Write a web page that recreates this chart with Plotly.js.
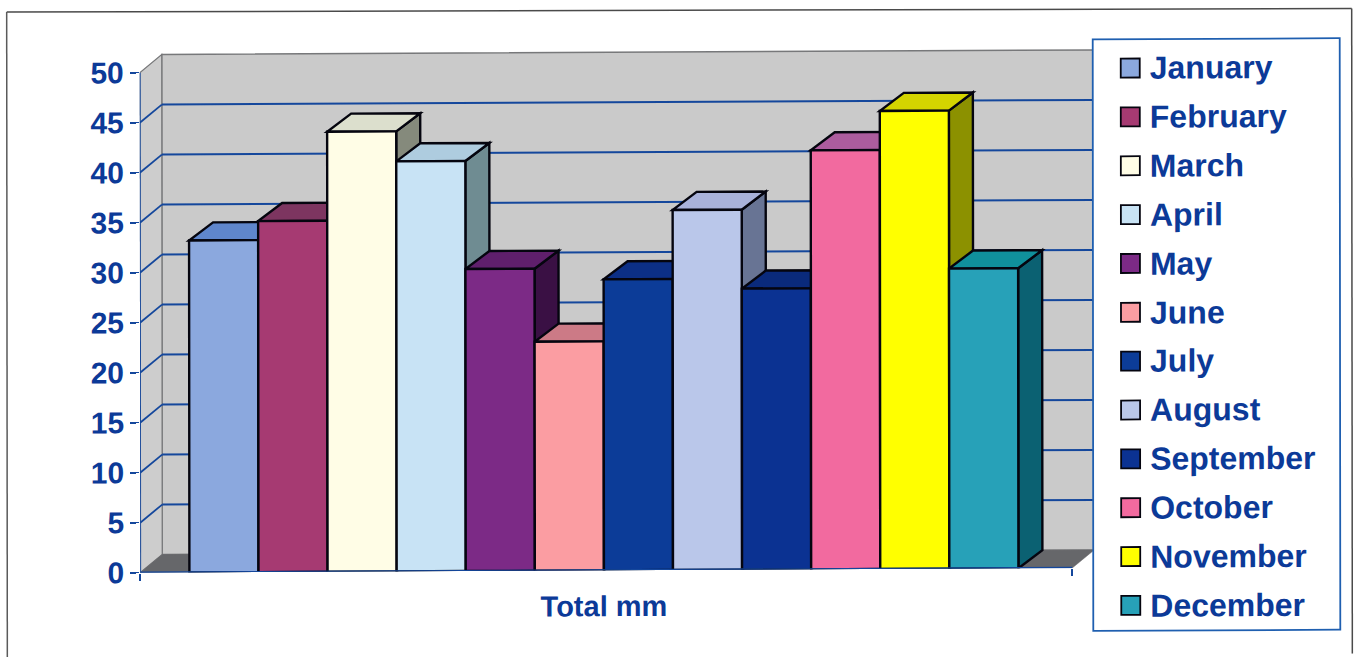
<!DOCTYPE html>
<html>
<head>
<meta charset="utf-8">
<script src="https://cdn.plot.ly/plotly-3.0.1.min.js"></script>
<style>
  html, body { margin: 0; padding: 0; background: #fff; overflow: hidden; }
  #chart { width: 1357px; height: 657px; transform-origin: 678px 328px; transform: matrix(1, -0.005, 0.001, 1, 0, 0); }
</style>
</head>
<body>
<div id="chart"></div>
<script>
// Monthly rainfall, one series per month
const months = ['January','February','March','April','May','June','July','August','September','October','November','December'];
const totals = [33.2, 35.1, 44, 41, 30.2, 22.9, 29.1, 36, 28.1, 41.9, 45.8, 30];
const categoryLabel = 'Total mm';
const yTicks = [0, 5, 10, 15, 20, 25, 30, 35, 40, 45, 50];

const frontColors = ['#8ba8de','#a63a72','#fffde6','#c8e3f5','#7c2a86','#fb9da2','#0c3c98','#bac7ea','#0b3292','#f26a9f','#ffff00','#27a1b8'];
const topColors   = ['#5f86cc','#7d3560','#dcdfcd','#aeccdf','#5f1f6c','#cc7a86','#0c2f86','#a9b2da','#0a2a7c','#ac5c9e','#d4d400','#10909c'];
const sideColors  = ['#3c5a8c','#5c2546','#858a7c','#6f8c92','#3a1044','#8c5560','#08205c','#687494','#071c58','#7c3a68','#8c9100','#0b6172'];

const BLUE = '#0c3a98';
const LINE = '#14479c';
const EDGE = '#05050f';

// Plot frame in page pixels
const M = { l: 140, r: 263, t: 50, b: 87 };
const W = 1357 - M.l - M.r, H = 657 - M.t - M.b;
const frontWidthPx = 932;
const xEnd = W / frontWidthPx;
const pxPerY = 10;
const yEnd = H / pxPerY;

// Perspective offsets of the box and of the columns, in axis units
const depthX = 22 / frontWidthPx, depthY = 1.8;
const barDepthX = 24 / frontWidthPx;
const groupCentre = 0.4975;
const barGap = 0.1105;
const slot = (1 - barGap) / months.length;
const groupLeft = groupCentre - (1 - barGap) / 2;

const poly = pts => 'M' + pts.map(p => p[0] + ',' + p[1]).join('L') + 'Z';
const face = (pts, fill, line, width) => ({
  type: 'path', xref: 'x', yref: 'y', layer: 'below', path: poly(pts), fillcolor: fill,
  line: { color: line, width: width }
});
const seg = (x0, y0, x1, y1, color, width, layer) => ({
  type: 'line', xref: 'x', yref: 'y', layer: layer || 'below', x0, y0, x1, y1,
  line: { color, width }
});

const shapes = [];

// Walls and floor of the box
shapes.push(face([[depthX,depthY],[1+depthX,depthY],[1+depthX,50+depthY],[depthX,50+depthY]], '#cacaca', '#77787a', 1.5));
shapes.push(face([[0,0],[depthX,depthY],[depthX,50+depthY],[0,50]], '#cdcdcd', '#77787a', 1.2));
shapes.push(face([[0,0],[1,0],[1+depthX,depthY],[depthX,depthY]], '#66676a', '#66676a', 0.5));

// Gridlines run across the back wall and down the side wall
yTicks.filter(v => v > 0 && v < 50).forEach(v => {
  shapes.push(seg(depthX, v + depthY, 1 + depthX, v + depthY, LINE, 2));
  shapes.push(seg(0, v, depthX, v + depthY, LINE, 1.8));
});

// Top and side faces of each column, painted left to right; the fronts are bar traces above them
totals.forEach((v, i) => {
  const x0 = groupLeft + i * slot, x1 = x0 + slot;
  const bx = barDepthX, by = depthY;
  shapes.push(face([[x1,0],[x1+bx,by],[x1+bx,v+by],[x1,v]], sideColors[i], EDGE, 2.4));
  shapes.push(face([[x0,v],[x1,v],[x1+bx,v+by],[x0+bx,v+by]], topColors[i], EDGE, 2.4));
});

// Axis lines stop at the front corners of the box
shapes.push(seg(0, 0, 0, 50, LINE, 1.8));
shapes.push(seg(0, 0, 1, 0, LINE, 2.4, 'above'));

// Outer frame, open at the foot of the page
const px = x => (x - M.l) / W;
const py = y => (M.t + H - y) / H;
const paperLine = (x0, y0, x1, y1, color, width) => ({
  type: 'line', xref: 'paper', yref: 'paper', layer: 'above',
  x0: px(x0), y0: py(y0), x1: px(x1), y1: py(y1), line: { color, width }
});
shapes.push(paperLine(7, 8.7, 1352, 11.9, '#4a4a4a', 1.5));
shapes.push(paperLine(7, 8.7, 7, 670, '#5a5a5a', 1.5));
shapes.push(paperLine(1352, 11.9, 1352, 670, '#4a4a4a', 1.5));

// Key box with a swatch and a label per month
shapes.push({
  type: 'rect', xref: 'paper', yref: 'paper', layer: 'above',
  x0: px(1093), x1: px(1340), y0: py(633), y1: py(41.5),
  fillcolor: '#ffffff', line: { color: '#1f5fb0', width: 1.8 }
});
const rowY = i => 70.3 + 48.85 * i;
const annotations = months.map((m, i) => {
  shapes.push({
    type: 'rect', xref: 'paper', yref: 'paper', layer: 'above',
    x0: px(1121), x1: px(1140), y0: py(rowY(i) + 9.5), y1: py(rowY(i) - 9.5),
    fillcolor: frontColors[i], line: { color: EDGE, width: 1.8 }
  });
  return {
    xref: 'paper', yref: 'paper', x: px(1148), y: py(rowY(i)), text: m, showarrow: false,
    xanchor: 'left', yanchor: 'middle', align: 'left',
    font: { family: '"Liberation Sans", Arial, sans-serif', size: 32, color: BLUE, weight: 700 }
  };
});

// Column fronts: a single category with the twelve months side by side
const traces = months.map((m, i) => ({
  type: 'bar', name: m, x: [groupCentre], y: [totals[i]],
  width: [slot], offset: [i * slot - (1 - barGap) / 2],
  marker: { color: frontColors[i], line: { color: EDGE, width: 2.4 } },
  hoverinfo: 'name+y'
}));

const layout = {
  width: 1357, height: 657, margin: M,
  paper_bgcolor: '#ffffff', plot_bgcolor: 'rgba(0,0,0,0)',
  showlegend: false, barmode: 'overlay',
  font: { family: '"Liberation Sans", Arial, sans-serif', color: BLUE },
  xaxis: {
    type: 'linear', range: [0, xEnd], showgrid: false, zeroline: false, showline: false,
    tickmode: 'array', tickvals: [groupCentre], ticktext: [categoryLabel], ticks: 'outside', ticklen: 10, tickcolor: 'rgba(0,0,0,0)',
    tickfont: { size: 29, color: BLUE, weight: 700 },
    minor: { tickmode: 'array', tickvals: [0, 1], ticks: 'outside', ticklen: 7, tickwidth: 1.6, tickcolor: LINE, showgrid: false }
  },
  yaxis: {
    range: [0, yEnd], showgrid: false, zeroline: false, showline: false,
    tickmode: 'array', tickvals: yTicks, ticktext: yTicks.map(String),
    ticks: 'outside', ticklen: 9, tickwidth: 1.6, tickcolor: LINE,
    tickfont: { size: 30, color: BLUE, weight: 700 }
  },
  shapes, annotations
};

Plotly.newPlot('chart', traces, layout, { displayModeBar: false, staticPlot: true });
</script>
</body>
</html>
